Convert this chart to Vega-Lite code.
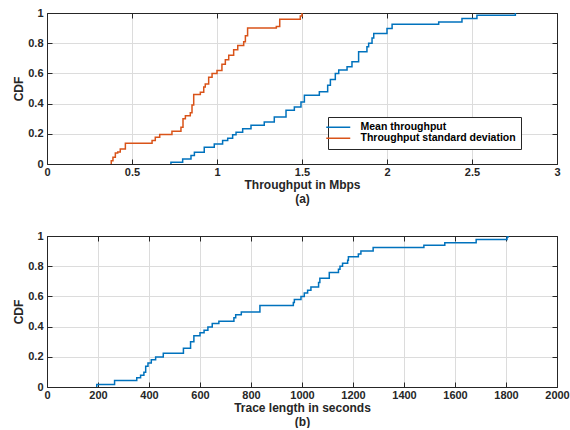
{
  "$schema": "https://vega.github.io/schema/vega-lite/v6.json",
  "padding": {"left": 12, "top": 6, "right": 5, "bottom": 0},
  "spacing": 24,
  "config": {
    "font": "Liberation Sans",
    "view": {"stroke": "#262626", "strokeWidth": 1},
    "axis": {
      "labelFont": "Liberation Sans", "labelFontWeight": "bold", "labelFontSize": 11, "labelColor": "#262626",
      "titleFont": "Liberation Sans", "titleFontWeight": "bold", "titleFontSize": 12, "titleColor": "#262626",
      "domainColor": "#262626", "tickColor": "#262626", "tickSize": -5, "gridColor": "#dcdcdc",
      "labelFlush": false, "labelOverlap": false, "labelBound": false, "labelAngle": 0
    },
    "axisX": {"labelPadding": 7},
    "axisY": {"labelPadding": 9}
  },
  "datasets": {
    "tput": [
      {"series": "Mean throughput", "i": 0, "x": 0.729, "y": 0},
      {"series": "Mean throughput", "i": 1, "x": 0.729, "y": 0.011},
      {"series": "Mean throughput", "i": 2, "x": 0.798, "y": 0.033},
      {"series": "Mean throughput", "i": 3, "x": 0.847, "y": 0.056},
      {"series": "Mean throughput", "i": 4, "x": 0.867, "y": 0.078},
      {"series": "Mean throughput", "i": 5, "x": 0.925, "y": 0.111},
      {"series": "Mean throughput", "i": 6, "x": 0.984, "y": 0.133},
      {"series": "Mean throughput", "i": 7, "x": 1.033, "y": 0.156},
      {"series": "Mean throughput", "i": 8, "x": 1.063, "y": 0.171},
      {"series": "Mean throughput", "i": 9, "x": 1.092, "y": 0.193},
      {"series": "Mean throughput", "i": 10, "x": 1.112, "y": 0.211},
      {"series": "Mean throughput", "i": 11, "x": 1.151, "y": 0.233},
      {"series": "Mean throughput", "i": 12, "x": 1.2, "y": 0.256},
      {"series": "Mean throughput", "i": 13, "x": 1.278, "y": 0.278},
      {"series": "Mean throughput", "i": 14, "x": 1.337, "y": 0.311},
      {"series": "Mean throughput", "i": 15, "x": 1.406, "y": 0.356},
      {"series": "Mean throughput", "i": 16, "x": 1.455, "y": 0.378},
      {"series": "Mean throughput", "i": 17, "x": 1.494, "y": 0.411},
      {"series": "Mean throughput", "i": 18, "x": 1.514, "y": 0.456},
      {"series": "Mean throughput", "i": 19, "x": 1.602, "y": 0.478},
      {"series": "Mean throughput", "i": 20, "x": 1.651, "y": 0.522},
      {"series": "Mean throughput", "i": 21, "x": 1.667, "y": 0.56},
      {"series": "Mean throughput", "i": 22, "x": 1.696, "y": 0.6},
      {"series": "Mean throughput", "i": 23, "x": 1.716, "y": 0.622},
      {"series": "Mean throughput", "i": 24, "x": 1.765, "y": 0.644},
      {"series": "Mean throughput", "i": 25, "x": 1.794, "y": 0.677},
      {"series": "Mean throughput", "i": 26, "x": 1.833, "y": 0.743},
      {"series": "Mean throughput", "i": 27, "x": 1.882, "y": 0.776},
      {"series": "Mean throughput", "i": 28, "x": 1.892, "y": 0.8},
      {"series": "Mean throughput", "i": 29, "x": 1.912, "y": 0.835},
      {"series": "Mean throughput", "i": 30, "x": 1.922, "y": 0.864},
      {"series": "Mean throughput", "i": 31, "x": 2.0, "y": 0.897},
      {"series": "Mean throughput", "i": 32, "x": 2.03, "y": 0.925},
      {"series": "Mean throughput", "i": 33, "x": 2.304, "y": 0.94},
      {"series": "Mean throughput", "i": 34, "x": 2.441, "y": 0.963},
      {"series": "Mean throughput", "i": 35, "x": 2.529, "y": 0.985},
      {"series": "Mean throughput", "i": 36, "x": 2.755, "y": 1.0},
      {"series": "Throughput standard deviation", "i": 0, "x": 0.378, "y": 0},
      {"series": "Throughput standard deviation", "i": 1, "x": 0.378, "y": 0.022},
      {"series": "Throughput standard deviation", "i": 2, "x": 0.388, "y": 0.044},
      {"series": "Throughput standard deviation", "i": 3, "x": 0.402, "y": 0.073},
      {"series": "Throughput standard deviation", "i": 4, "x": 0.416, "y": 0.08},
      {"series": "Throughput standard deviation", "i": 5, "x": 0.431, "y": 0.1},
      {"series": "Throughput standard deviation", "i": 6, "x": 0.461, "y": 0.137},
      {"series": "Throughput standard deviation", "i": 7, "x": 0.618, "y": 0.155},
      {"series": "Throughput standard deviation", "i": 8, "x": 0.637, "y": 0.177},
      {"series": "Throughput standard deviation", "i": 9, "x": 0.663, "y": 0.195},
      {"series": "Throughput standard deviation", "i": 10, "x": 0.735, "y": 0.217},
      {"series": "Throughput standard deviation", "i": 11, "x": 0.788, "y": 0.243},
      {"series": "Throughput standard deviation", "i": 12, "x": 0.8, "y": 0.3},
      {"series": "Throughput standard deviation", "i": 13, "x": 0.814, "y": 0.32},
      {"series": "Throughput standard deviation", "i": 14, "x": 0.843, "y": 0.34},
      {"series": "Throughput standard deviation", "i": 15, "x": 0.853, "y": 0.39},
      {"series": "Throughput standard deviation", "i": 16, "x": 0.863, "y": 0.46},
      {"series": "Throughput standard deviation", "i": 17, "x": 0.902, "y": 0.475},
      {"series": "Throughput standard deviation", "i": 18, "x": 0.922, "y": 0.51},
      {"series": "Throughput standard deviation", "i": 19, "x": 0.931, "y": 0.53},
      {"series": "Throughput standard deviation", "i": 20, "x": 0.951, "y": 0.575},
      {"series": "Throughput standard deviation", "i": 21, "x": 0.971, "y": 0.6},
      {"series": "Throughput standard deviation", "i": 22, "x": 1.0, "y": 0.62},
      {"series": "Throughput standard deviation", "i": 23, "x": 1.029, "y": 0.66},
      {"series": "Throughput standard deviation", "i": 24, "x": 1.049, "y": 0.69},
      {"series": "Throughput standard deviation", "i": 25, "x": 1.069, "y": 0.72},
      {"series": "Throughput standard deviation", "i": 26, "x": 1.098, "y": 0.757},
      {"series": "Throughput standard deviation", "i": 27, "x": 1.122, "y": 0.785},
      {"series": "Throughput standard deviation", "i": 28, "x": 1.157, "y": 0.81},
      {"series": "Throughput standard deviation", "i": 29, "x": 1.167, "y": 0.85},
      {"series": "Throughput standard deviation", "i": 30, "x": 1.18, "y": 0.9},
      {"series": "Throughput standard deviation", "i": 31, "x": 1.349, "y": 0.91},
      {"series": "Throughput standard deviation", "i": 32, "x": 1.369, "y": 0.958},
      {"series": "Throughput standard deviation", "i": 33, "x": 1.49, "y": 0.98},
      {"series": "Throughput standard deviation", "i": 34, "x": 1.5, "y": 1.0}
    ],
    "trace": [
      {"i": 0, "x": 195, "y": 0}, {"i": 1, "x": 195, "y": 0.017}, {"i": 2, "x": 265, "y": 0.043},
      {"i": 3, "x": 352, "y": 0.061}, {"i": 4, "x": 367, "y": 0.078}, {"i": 5, "x": 380, "y": 0.098},
      {"i": 6, "x": 387, "y": 0.137}, {"i": 7, "x": 396, "y": 0.159}, {"i": 8, "x": 409, "y": 0.18},
      {"i": 9, "x": 426, "y": 0.198}, {"i": 10, "x": 456, "y": 0.224}, {"i": 11, "x": 535, "y": 0.257},
      {"i": 12, "x": 563, "y": 0.3}, {"i": 13, "x": 576, "y": 0.339}, {"i": 14, "x": 600, "y": 0.359},
      {"i": 15, "x": 616, "y": 0.376}, {"i": 16, "x": 631, "y": 0.398}, {"i": 17, "x": 648, "y": 0.42},
      {"i": 18, "x": 674, "y": 0.435}, {"i": 19, "x": 733, "y": 0.459}, {"i": 20, "x": 740, "y": 0.478},
      {"i": 21, "x": 762, "y": 0.496}, {"i": 22, "x": 835, "y": 0.539}, {"i": 23, "x": 966, "y": 0.56},
      {"i": 24, "x": 970, "y": 0.579}, {"i": 25, "x": 996, "y": 0.6}, {"i": 26, "x": 1009, "y": 0.623},
      {"i": 27, "x": 1022, "y": 0.64}, {"i": 28, "x": 1035, "y": 0.662}, {"i": 29, "x": 1065, "y": 0.692},
      {"i": 30, "x": 1070, "y": 0.72}, {"i": 31, "x": 1107, "y": 0.758}, {"i": 32, "x": 1143, "y": 0.78},
      {"i": 33, "x": 1149, "y": 0.8}, {"i": 34, "x": 1159, "y": 0.819}, {"i": 35, "x": 1179, "y": 0.84},
      {"i": 36, "x": 1182, "y": 0.863}, {"i": 37, "x": 1221, "y": 0.88}, {"i": 38, "x": 1231, "y": 0.9},
      {"i": 39, "x": 1279, "y": 0.924}, {"i": 40, "x": 1478, "y": 0.939}, {"i": 41, "x": 1560, "y": 0.956},
      {"i": 42, "x": 1683, "y": 0.976}, {"i": 43, "x": 1804, "y": 0.993}, {"i": 44, "x": 1808, "y": 1.0}
    ]
  },
  "vconcat": [
    {
      "width": 510, "height": 151,
      "data": {"name": "tput"},
      "layer": [
        {
          "mark": {"type": "line", "interpolate": "step-after", "strokeWidth": 1.5},
          "encoding": {
            "x": {"field": "x", "type": "quantitative", "scale": {"domain": [0, 3], "nice": false},
                  "axis": {"values": [0, 0.5, 1, 1.5, 2, 2.5, 3], "format": "~g", "title": ["Throughput in Mbps", "(a)"], "titlePadding": 2}},
            "y": {"field": "y", "type": "quantitative", "scale": {"domain": [0, 1], "nice": false},
                  "axis": {"values": [0, 0.2, 0.4, 0.6, 0.8, 1], "format": "~g", "title": "CDF", "titlePadding": 2}},
            "color": {"field": "series", "type": "nominal",
                      "scale": {"domain": ["Mean throughput", "Throughput standard deviation"], "range": ["#0072BD", "#D95319"]},
                      "legend": {"orient": "none", "legendX": 281, "legendY": 104, "title": null, "symbolType": "M-3,0H3",
                                 "symbolSize": 64, "symbolStrokeWidth": 1.5, "labelFont": "Liberation Sans", "labelFontWeight": "bold",
                                 "labelFontSize": 10.5, "labelColor": "black", "labelLimit": 0, "strokeColor": "#262626", "fillColor": "white",
                                 "padding": 5, "rowPadding": 0, "labelOffset": 17}},
            "order": {"field": "i", "type": "quantitative"}
          }
        },
        {
          "mark": {"type": "point", "opacity": 0},
          "encoding": {
            "x": {"field": "x", "type": "quantitative", "axis": {"orient": "top", "values": [0, 0.5, 1, 1.5, 2, 2.5, 3], "labels": false, "grid": false, "title": null}},
            "y": {"field": "y", "type": "quantitative", "axis": {"orient": "right", "values": [0, 0.2, 0.4, 0.6, 0.8, 1], "labels": false, "grid": false, "title": null}}
          }
        }
      ],
      "resolve": {"axis": {"x": "independent", "y": "independent"}}
    },
    {
      "width": 510, "height": 151,
      "data": {"name": "trace"},
      "layer": [
        {
          "mark": {"type": "line", "interpolate": "step-after", "strokeWidth": 1.5, "color": "#0072BD"},
          "encoding": {
            "x": {"field": "x", "type": "quantitative", "scale": {"domain": [0, 2000], "nice": false},
                  "axis": {"values": [0, 200, 400, 600, 800, 1000, 1200, 1400, 1600, 1800, 2000], "format": "d", "title": ["Trace length in seconds", "(b)"], "titlePadding": 2}},
            "y": {"field": "y", "type": "quantitative", "scale": {"domain": [0, 1], "nice": false},
                  "axis": {"values": [0, 0.2, 0.4, 0.6, 0.8, 1], "format": "~g", "title": "CDF", "titlePadding": 2}},
            "order": {"field": "i", "type": "quantitative"}
          }
        },
        {
          "mark": {"type": "point", "opacity": 0},
          "encoding": {
            "x": {"field": "x", "type": "quantitative", "axis": {"orient": "top", "values": [0, 200, 400, 600, 800, 1000, 1200, 1400, 1600, 1800, 2000], "labels": false, "grid": false, "title": null}},
            "y": {"field": "y", "type": "quantitative", "axis": {"orient": "right", "values": [0, 0.2, 0.4, 0.6, 0.8, 1], "labels": false, "grid": false, "title": null}}
          }
        }
      ],
      "resolve": {"axis": {"x": "independent", "y": "independent"}}
    }
  ]
}
